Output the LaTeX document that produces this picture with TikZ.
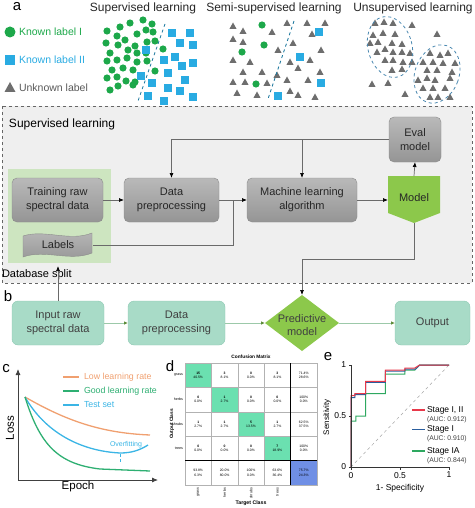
\documentclass[tikz,border=0pt]{standalone}
\usepackage{fontspec}
\setmainfont{Liberation Sans}
\usetikzlibrary{arrows.meta,shapes.geometric}
\definecolor{cgreen}{HTML}{1DA84A}
\definecolor{cblue}{HTML}{29ABE2}
\definecolor{tgray}{HTML}{6E6E6E}
\definecolor{panelbg}{HTML}{EFEFEF}
\definecolor{dbgreen}{HTML}{CDE5C0}
\definecolor{modelgreen}{HTML}{8CC84B}
\definecolor{bteal}{HTML}{A8DBC7}
\definecolor{tborder}{HTML}{8DC8B2}
\definecolor{gtop}{HTML}{B9B9B9}
\definecolor{gbot}{HTML}{959595}
\definecolor{gborder}{HTML}{8A8A8A}
\definecolor{lgray}{HTML}{6A6A6A}
\definecolor{bline}{HTML}{9CC9A9}
\definecolor{bhead}{HTML}{5E8C3A}
\definecolor{ellblue}{HTML}{4A88B0}
\definecolor{lossor}{HTML}{F0A070}
\definecolor{lossgr}{HTML}{2EAF72}
\definecolor{lossbl}{HTML}{3BB5E5}
\definecolor{cmgreen}{HTML}{6BE0B0}
\definecolor{cmblue}{HTML}{6F8FE5}
\definecolor{rocred}{HTML}{E8394A}
\definecolor{rocblue}{HTML}{2B5E9E}
\definecolor{rocgreen}{HTML}{2EA860}
\begin{document}
\begin{tikzpicture}[x=1pt,y=-1pt,
  every node/.style={inner sep=0pt,outer sep=0pt},
  gbox/.style={draw=gborder,top color=gtop,bottom color=gbot,rounded corners=5pt,align=center,
    font=\fontsize{11}{14}\selectfont,text=black!85,minimum height=44pt},
  tbox/.style={draw=tborder,fill=bteal,rounded corners=6pt,align=center,
    font=\fontsize{11}{14}\selectfont,text=black!75,minimum height=44pt},
  conn/.style={draw=lgray,line width=0.7pt,-{Latex[length=5pt,width=4pt,color=black]}},
  plain/.style={draw=lgray,line width=0.7pt},
  bconn/.style={draw=bline,line width=0.8pt,-{Latex[length=4pt,width=3.5pt,color=bhead]}},
  title/.style={font=\fontsize{12}{13}\selectfont,text=black!85},
  panel/.style={font=\fontsize{15}{15}\selectfont},
  cmtxt/.style={font=\fontsize{3.4}{4.2}\selectfont,align=center},
  leg/.style={font=\fontsize{8.8}{10}\selectfont,anchor=west}
]
\useasboundingbox (0,0) rectangle (474,508);
% ---------------- panel a : scatter ----------------
\node[panel,anchor=center] (la) at (17,7) {a};
\node[title] (t1) at (143,8) {Supervised learning};
\node[title] (t2) at (274,8) {Semi-supervised learning};
\node[title] (t3) at (413,8) {Unsupervised learning};
\fill[cgreen] (10,32) circle (5.5);
\node[anchor=west,font=\fontsize{10.5}{12}\selectfont,text=cgreen] (k1) at (19,32) {Known label I};
\fill[cblue] (5,55) rectangle (15,65);
\node[anchor=west,font=\fontsize{10.5}{12}\selectfont,text=cblue] (k2) at (19,60) {Known label II};
\fill[tgray] (4.5,92) -- (15.5,92) -- (10,82) -- cycle;
\node[anchor=west,font=\fontsize{10.5}{12}\selectfont,text=black!65] (k3) at (19,88) {Unknown label};
% supervised
\foreach \x/\y in {130/23,143/20,152/24,107/31,120/27,137/34,146/30,153/32,117/36,125/40,106/43,147/42,155/41,135/46,118/45,110/53,128/50,137/53,146/53,163/49,107/61,117/60,127/58,137/62,147/61,112/70,123/68,133/70,155/71,107/78,117/77,126/81,135/82,110/90,118/86,133/85}
  \fill[cgreen] (\x,\y) circle (3.6);
\foreach \x/\y in {172/33,190/33,180/43,193/45,146/50,164/60,175/57,193/63,182/66,168/73,185/80,141/76,152/83,168/88,180/91,148/96,164/101,193/97}
  \fill[cblue] ({\x-3.6},{\y-3.6}) rectangle ({\x+3.6},{\y+3.6});
\draw[cblue!70!black,dashed,line width=0.8pt] (165,24) -- (138,101);
% semi-supervised
\foreach \x/\y in {287/23,307/23,325/23,272/32,243/31,233/26,243/42,233/39,293/43,312/34,321/50,278/50,290/62,310/60,233/60,250/62,262/72,243/72,298/68,320/72,287/80,308/80,233/82,267/83,245/82,237/93,257/95,290/91,298/95,315/97,277/75}
  \fill[tgray] ({\x-3.6},{\y+3}) -- ({\x+3.6},{\y+3}) -- (\x,{\y-3.5}) -- cycle;
\foreach \x/\y in {262/25,264/45,242/52,256/84}
  \fill[cgreen] (\x,\y) circle (3.6);
\foreach \x/\y in {319/32,300/57,321/83,278/96}
  \fill[cblue] ({\x-3.6},{\y-3.6}) rectangle ({\x+3.6},{\y+3.6});
\draw[cblue!70!black,dashed,line width=0.8pt] (294,21) -- (268,99);
% unsupervised
\foreach \x/\y in {375/23,384/22,393/23,373/35,383/33,395/34,370/43,378/42,392/43,402/44,377/52,385/49,393/52,402/52,410/53,385/60,393/60,403/62,412/62,392/70,402/69,
  430/53,440/55,448/53,423/62,433/62,443/63,455/63,427/70,437/70,452/72,418/80,427/78,435/80,450/78,423/88,433/88,445/88,430/97,438/97,450/97,
  412/25,437/34,372/84,388/83,405/94}
  \fill[tgray] ({\x-3.6},{\y+3}) -- ({\x+3.6},{\y+3}) -- (\x,{\y-3.5}) -- cycle;
\draw[ellblue,dashed,line width=0.8pt,rotate around={15:(390,47)}] (390,47) ellipse (22 and 31);
\draw[ellblue,dashed,line width=0.8pt,rotate around={-20:(437,74)}] (437,74) ellipse (22 and 30);
% ---------------- supervised learning panel ----------------
\draw[gray!80!black,dashed,fill=panelbg,line width=0.8pt] (2,106) rectangle (472,283);
\node[anchor=west,font=\fontsize{12}{13}\selectfont] (sl) at (9,124) {Supervised learning};
\fill[dbgreen] (8,169) rectangle (111,263);
\node[gbox,minimum width=91pt] (train) at (57.5,200) {Training raw\\spectral data};
\shade[top color=gtop,bottom color=gbot,draw=gborder]
  (23,236) .. controls (45,229) and (70,242) .. (92,233) -- (92,253)
  .. controls (70,262) and (45,249) .. (23,257) -- cycle;
\node[font=\fontsize{11}{12}\selectfont,minimum width=70pt,text=black!85] (labels) at (58,245) {Labels};
\node[gbox,minimum width=95pt] (dataA) at (171.5,200) {Data\\preprocessing};
\node[gbox,minimum width=110pt] (ml) at (302,200) {Machine learning\\algorithm};
\node[gbox,minimum width=52pt,minimum height=45pt] (eval) at (415,139.5) {Eval\\model};
\fill[modelgreen] (388,176) -- (440,176) -- (440,213) -- (414,223) -- (388,213) -- cycle;
\node[font=\fontsize{11}{12}\selectfont,text=black!85] (model) at (414,198) {Model};
\coordinate (modelN) at (414,176);
\coordinate (modelS) at (414,223);
\coordinate (modelW) at (388,200);
\coordinate (join) at (233,200);
\coordinate (bend) at (414,259);
\draw[conn] (train) -- (dataA);
\draw[conn] (dataA) -- (ml);
\draw[plain] (labels.east) -| (join);
\draw[conn] (eval.west) -| (dataA.north);
\draw[conn] (ml.north |- eval.west) -- (ml.north);
\draw[conn] (ml) -- (modelW);
\draw[conn] (modelN) -- (eval.south);
\node[anchor=west,font=\fontsize{11}{12}\selectfont] (dbs) at (2,275) {Database split};
% ---------------- panel b ----------------
\node[panel] (lb) at (8,296) {b};
\node[tbox,minimum width=92pt] (input) at (58,323) {Input raw\\spectral data};
\node[tbox,minimum width=97pt] (dataB) at (176.5,323) {Data\\preprocessing};
\fill[modelgreen] (302,295) -- (339,323) -- (302,351) -- (265,323) -- cycle;
\node[align=center,font=\fontsize{11}{13.5}\selectfont,text=black!75] (pred) at (302,325) {Predictive\\model};
\coordinate (predN) at (302,295);
\coordinate (predW) at (265,323);
\coordinate (predE) at (339,323);
\node[tbox,minimum width=75pt] (output) at (432.5,323) {Output};
\coordinate (dbsplit) at (58,266);
\draw[draw=lgray,line width=0.7pt,-{Latex[length=5pt,width=4pt,color=black]}] (input.north) -- (dbsplit);
\draw[conn] (modelS) -- (bend) -| (predN);
\draw[bconn] (input) -- (dataB);
\draw[bconn] (dataB) -- (predW);
\draw[bconn] (predE) -- (output);
% ---------------- panel c ----------------
\node[panel] (lc) at (6,369) {c};
\coordinate (corner) at (18,480);
\coordinate (ytop) at (18,369);
\coordinate (xend) at (158,480);
\draw[black!75,line width=0.8pt,-{Latex[length=6pt,width=5pt]}] (corner) -- (ytop);
\draw[black!75,line width=0.8pt,-{Latex[length=6pt,width=5pt]}] (corner) -- (xend);
\node[rotate=90,font=\fontsize{11.5}{12}\selectfont] (loss) at (10,428) {Loss};
\node[font=\fontsize{11.5}{12}\selectfont] (epoch) at (78,487) {Epoch};
\draw[lossor,line width=1.3pt] (25,397) .. controls (65,420) and (100,433) .. (150,435);
\draw[lossbl,line width=1.3pt] (25,397) .. controls (45,432) and (80,451) .. (120,453) .. controls (132,453) and (140,450) .. (148,445);
\draw[lossgr,line width=1.3pt] (25,397) .. controls (40,445) and (58,464) .. (100,469) -- (150,471);
\draw[lossbl,densely dashed,line width=0.5pt] (120,454) -- (120,462);
\node[font=\fontsize{7}{8}\selectfont,text=lossbl] (ovf) at (126,445) {Overfitting};
\draw[lossor,line width=1.3pt] (63,377) -- (79,377);
\node[leg,text=lossor] (l1) at (84,377) {Low learning rate};
\draw[lossgr,line width=1.3pt] (63,391) -- (79,391);
\node[leg,text=lossgr] (l2) at (84,391) {Good learning rate};
\draw[lossbl,line width=1.3pt] (63,405) -- (79,405);
\node[leg,text=lossbl] (l3) at (84,405) {Test set};
% ---------------- panel d ----------------
\node[panel] (ld) at (170,366) {d};
\node[font=\bfseries\fontsize{4.8}{5}\selectfont] (cmt) at (251,357) {Confusion Matrix};
\foreach \r/\c/\n/\p/\f in {
 0/0/15/40.5\%/cmgreen, 0/1/3/8.1\%/white, 0/2/0/0.0\%/white, 0/3/3/8.1\%/white,
 1/0/0/0.0\%/white, 1/1/1/2.7\%/cmgreen, 1/2/0/0.0\%/white, 1/3/0/0.0\%/white,
 2/0/1/2.7\%/white, 2/1/1/2.7\%/white, 2/2/5/13.5\%/cmgreen, 2/3/1/2.7\%/white,
 3/0/0/0.0\%/white, 3/1/0/0.0\%/white, 3/2/0/0.0\%/white, 3/3/7/18.9\%/cmgreen}
{
 \filldraw[fill=\f,draw=black!30,line width=0.3pt] ({185+26.4*\c},{363+24.4*\r}) rectangle ++(26.4,24.4);
 \node[cmtxt] at ({185+26.4*(\c+0.5)},{363+24.4*(\r+0.5)}) {\textbf{\n}\\\p};
}
\foreach \r/\a/\b in {0/71.4\%/28.6\%,1/100\%/0.0\%,2/62.5\%/37.5\%,3/100\%/0.0\%}
{
 \filldraw[fill=white,draw=black!30,line width=0.3pt] (290.6,{363+24.4*\r}) rectangle ++(26.4,24.4);
 \node[cmtxt] at (303.8,{363+24.4*(\r+0.5)}) {\a\\\b};
}
\foreach \c/\a/\b in {0/93.8\%/6.3\%,1/20.0\%/80.0\%,2/100\%/0.0\%,3/63.6\%/36.4\%}
{
 \filldraw[fill=white,draw=black!30,line width=0.3pt] ({185+26.4*\c},460.6) rectangle ++(26.4,24.4);
 \node[cmtxt] at ({185+26.4*(\c+0.5)},472.8) {\a\\\b};
}
\filldraw[fill=cmblue,draw=black!30,line width=0.3pt] (290.6,460.6) rectangle ++(26.4,24.4);
\node[cmtxt] (tot) at (303.8,472.8) {75.7\%\\24.3\%};
\draw[black,line width=1pt] (290.6,363) -- (290.6,485);
\draw[black,line width=1pt] (185,460.6) -- (317,460.6);
\foreach \r/\t in {0/grass,1/herbs,2/shrubs,3/trees}
  \node[anchor=east,font=\fontsize{3.6}{4}\selectfont] at (183,{363+24.4*(\r+0.5)}) {\t};
\foreach \c/\t in {0/grass,1/herbs,2/shrubs,3/trees}
  \node[anchor=east,rotate=90,font=\fontsize{3.6}{4}\selectfont] at ({185+26.4*(\c+0.5)},488) {\t};
\node[rotate=90,font=\bfseries\fontsize{4.8}{5}\selectfont] (ocl) at (172,424) {Output Class};
\node[font=\bfseries\fontsize{5.2}{6}\selectfont] (tcl) at (251,503) {Target Class};
% ---------------- panel e ----------------
\node[panel] (le) at (328,357) {e};
\begin{scope}[shift={(351,467)},x=98pt,y=102pt]
 \draw[black!35,dashed,line width=0.5pt] (0,0) -- (1,1);
 \draw[rocgreen,line width=1pt] (0,0) -- (0,0.45) -- (0.05,0.45) -- (0.05,0.5) -- (0.15,0.5) -- (0.15,0.72) -- (0.35,0.72) -- (0.35,0.91) -- (0.55,0.91) -- (0.55,0.95) -- (0.65,0.95) -- (0.7,1) -- (1,1);
 \draw[rocblue,line width=1pt] (0,0) -- (0,0.68) -- (0.04,0.68) -- (0.04,0.71) -- (0.15,0.71) -- (0.15,0.83) -- (0.35,0.83) -- (0.35,0.94) -- (0.55,0.94) -- (0.55,0.96) -- (0.66,0.96) -- (0.7,1) -- (1,1);
 \draw[rocred,line width=1pt] (0,0) -- (0,0.70) -- (0.04,0.70) -- (0.04,0.72) -- (0.15,0.72) -- (0.15,0.84) -- (0.35,0.84) -- (0.35,0.95) -- (0.55,0.95) -- (0.55,0.97) -- (0.65,0.97) -- (0.7,1) -- (1,1);
 \draw[black!80,line width=0.7pt] (0,1) -- (0,0) -- (1,0);
 \foreach \v in {0,0.5,1} {
   \draw[black!80,line width=0.6pt] (\v,0) -- (\v,-0.025);
   \draw[black!80,line width=0.6pt] (0,\v) -- (-0.025,\v);
 }
 \node[anchor=east,font=\fontsize{8.5}{9}\selectfont] at (-0.05,1) {1};
 \node[anchor=east,font=\fontsize{8.5}{9}\selectfont] at (-0.05,0.5) {0.5};
 \node[anchor=east,font=\fontsize{8.5}{9}\selectfont] at (-0.05,0) {0};
 \node[anchor=north,font=\fontsize{8.5}{9}\selectfont] at (0,-0.05) {0};
 \node[anchor=north,font=\fontsize{8.5}{9}\selectfont] at (0.5,-0.05) {0.5};
 \node[anchor=north,font=\fontsize{8.5}{9}\selectfont] at (1,-0.05) {1};
\end{scope}
\node[rotate=90,font=\fontsize{8}{9}\selectfont] (sens) at (327,417) {Sensitivity};
\node[font=\fontsize{8.5}{9}\selectfont] (spec) at (400,488) {1- Specificity};
\draw[rocred,line width=1.2pt] (412,410) -- (425,410);
\node[anchor=west,font=\fontsize{8.5}{9}\selectfont] (s1) at (427,410) {Stage I, II};
\node[anchor=west,font=\fontsize{6.8}{7}\selectfont,text=black!75] (a1) at (427,419.5) {(AUC: 0.912)};
\draw[rocblue,line width=1.2pt] (412,429.5) -- (425,429.5);
\node[anchor=west,font=\fontsize{8.5}{9}\selectfont] (s2) at (427,429.5) {Stage I};
\node[anchor=west,font=\fontsize{6.8}{7}\selectfont,text=black!75] (a2) at (427,439) {(AUC: 0.910)};
\draw[rocgreen,line width=1.2pt] (412,451) -- (425,451);
\node[anchor=west,font=\fontsize{8.5}{9}\selectfont] (s3) at (427,451) {Stage IA};
\node[anchor=west,font=\fontsize{6.8}{7}\selectfont,text=black!75] (a3) at (427,460.5) {(AUC: 0.844)};
\end{tikzpicture}
\end{document}
